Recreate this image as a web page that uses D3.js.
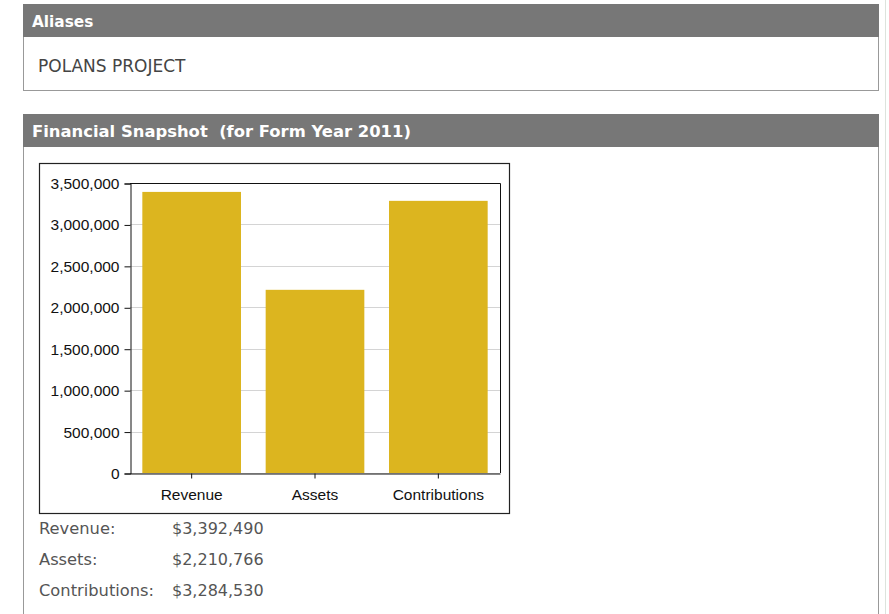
<!DOCTYPE html>
<html>
<head>
<meta charset="utf-8">
<script src="https://cdn.jsdelivr.net/npm/d3@7"></script>
<style>
  body { margin: 0; background: #fff; }
</style>
</head>
<body>
<div id="page"></div>
<script>
const categories = ["Revenue", "Assets", "Contributions"];
const values = [3392490, 2210766, 3284530];
const yTicks = [0, 500000, 1000000, 1500000, 2000000, 2500000, 3000000, 3500000];
const summaryLabels = ["Revenue:", "Assets:", "Contributions:"];
const summaryValues = ["$3,392,490", "$2,210,766", "$3,284,530"];

const width = 889;
const height = 614;

const pageFont = "DejaVu Sans, Verdana, sans-serif";
const axisFont = "Liberation Sans, Arial, sans-serif";

const svg = d3
  .select("#page")
  .append("svg")
  .attr("width", width)
  .attr("height", height)
  .style("font-family", pageFont);

// page edge line on the right
svg.append("line")
  .attr("x1", 885.5).attr("x2", 885.5)
  .attr("y1", 0).attr("y2", height)
  .attr("stroke", "#dde3dd");

// --- Aliases panel ---
svg.append("rect")
  .attr("x", 23.5).attr("y", 4.5)
  .attr("width", 855).attr("height", 86)
  .attr("fill", "#fff").attr("stroke", "#999");
svg.append("rect")
  .attr("x", 23).attr("y", 4)
  .attr("width", 856).attr("height", 33)
  .attr("fill", "#777");
svg.append("text")
  .attr("x", 32).attr("y", 27)
  .attr("fill", "#fff")
  .attr("font-weight", "bold")
  .attr("font-size", 15.3)
  .text("Aliases");
svg.append("text")
  .attr("x", 38).attr("y", 72)
  .attr("fill", "#444")
  .attr("font-size", 17)
  .text("POLANS PROJECT");

// --- Financial panel ---
svg.append("rect")
  .attr("x", 23.5).attr("y", 114.5)
  .attr("width", 855).attr("height", 510)
  .attr("fill", "#fff").attr("stroke", "#999");
svg.append("rect")
  .attr("x", 23).attr("y", 114)
  .attr("width", 856).attr("height", 33)
  .attr("fill", "#777");
svg.append("text")
  .attr("x", 32).attr("y", 137)
  .attr("fill", "#fff")
  .attr("font-weight", "bold")
  .attr("font-size", 16.4)
  .attr("xml:space", "preserve")
  .text("Financial Snapshot  (for Form Year 2011)");

// chart frame
svg.append("rect")
  .attr("x", 39.5).attr("y", 163.5)
  .attr("width", 470).attr("height", 350)
  .attr("fill", "#fff").attr("stroke", "#222").attr("stroke-width", 1.2);

const plot = { left: 130, right: 500, top: 183, bottom: 473 };

const x = d3.scaleBand()
  .domain(categories)
  .range([plot.left, plot.right])
  .paddingInner(0.2)
  .paddingOuter(0.1);

const y = d3.scaleLinear()
  .domain([0, 3500000])
  .range([plot.bottom, plot.top]);

// gridlines
svg.append("g")
  .selectAll("line")
  .data(yTicks)
  .enter()
  .append("line")
  .attr("x1", plot.left).attr("x2", plot.right)
  .attr("y1", (d) => Math.round(y(d)) + 0.5)
  .attr("y2", (d) => Math.round(y(d)) + 0.5)
  .attr("stroke", "#d4d4d4");

// bars
svg.append("g")
  .selectAll("rect")
  .data(values)
  .enter()
  .append("rect")
  .attr("x", (d, i) => x(categories[i]))
  .attr("y", (d) => y(d))
  .attr("width", x.bandwidth())
  .attr("height", (d) => y(0) - y(d))
  .attr("fill", "#dcb51f");

// plot border (top and right)
svg.append("path")
  .attr("d", `M${plot.left},${plot.top + 0.5}H${plot.right + 0.5}V${plot.bottom}`)
  .attr("fill", "none")
  .attr("stroke", "#111");

const yAxis = svg.append("g")
  .attr("transform", `translate(${plot.left + 0.5},0.5)`)
  .call(d3.axisLeft(y).tickValues(yTicks).tickSize(6).tickPadding(5)
    .tickFormat(d3.format(",")));
yAxis.selectAll("text")
  .style("font-family", axisFont).style("font-size", "15.5px").attr("fill", "#111");
yAxis.selectAll("line,path").attr("stroke", "#111");

const xAxis = svg.append("g")
  .attr("transform", `translate(0,${plot.bottom + 0.5})`)
  .call(d3.axisBottom(x).tickSize(5).tickSizeOuter(0).tickPadding(10));
xAxis.selectAll("text")
  .style("font-family", axisFont).style("font-size", "15.5px").attr("fill", "#111");
xAxis.selectAll("line,path").attr("stroke", "#111");

// summary rows under the chart
const rows = svg.append("g");
rows.selectAll("text.lbl")
  .data(summaryLabels)
  .enter()
  .append("text")
  .attr("class", "lbl")
  .attr("x", 39)
  .attr("y", (d, i) => 534 + i * 31)
  .attr("fill", "#555")
  .attr("font-size", 16.3)
  .text((d) => d);
rows.selectAll("text.val")
  .data(summaryValues)
  .enter()
  .append("text")
  .attr("class", "val")
  .attr("x", 172)
  .attr("y", (d, i) => 534 + i * 31)
  .attr("fill", "#555")
  .attr("font-size", 16)
  .text((d) => d);
</script>
</body>
</html>
